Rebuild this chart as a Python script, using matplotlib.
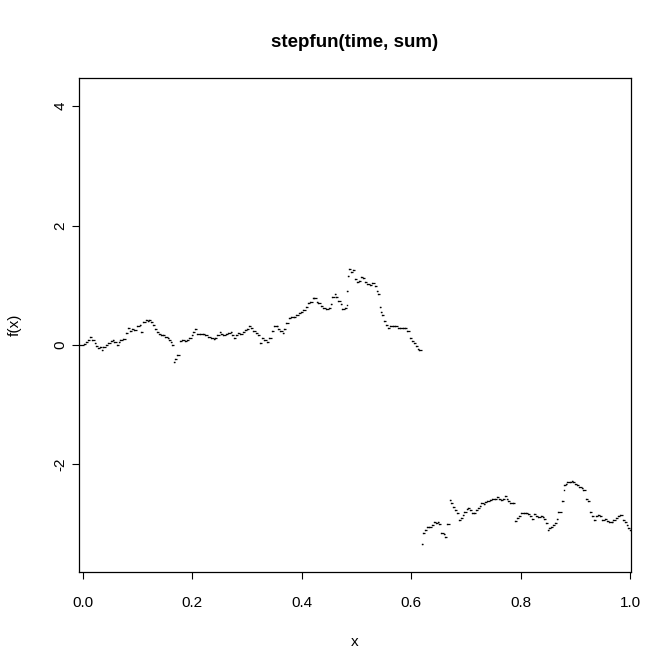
import numpy as np
import matplotlib
matplotlib.use('Agg')
import matplotlib.pyplot as plt

# knots of the step function (time) and the value right of each knot (sum)
time = [0.002, 0.006, 0.010, 0.014, 0.018, 0.022, 0.025, 0.028, 0.032, 0.035,
        0.038, 0.043, 0.046, 0.051, 0.055, 0.058, 0.062, 0.066, 0.069, 0.073,
        0.079, 0.082, 0.086, 0.090, 0.094, 0.099, 0.104, 0.106, 0.110, 0.115,
        0.119, 0.122, 0.125, 0.128, 0.132, 0.136, 0.140, 0.144, 0.147, 0.151,
        0.155, 0.158, 0.162, 0.164, 0.166, 0.169, 0.173, 0.177, 0.181, 0.186,
        0.191, 0.195, 0.199, 0.202, 0.206, 0.209, 0.214, 0.219, 0.224, 0.229,
        0.234, 0.239, 0.242, 0.246, 0.250, 0.253, 0.257, 0.261, 0.265, 0.270,
        0.273, 0.276, 0.280, 0.284, 0.288, 0.292, 0.296, 0.300, 0.303, 0.307,
        0.311, 0.316, 0.321, 0.323, 0.328, 0.332, 0.336, 0.340, 0.345, 0.349,
        0.354, 0.357, 0.361, 0.365, 0.368, 0.372, 0.377, 0.381, 0.386, 0.390,
        0.395, 0.399, 0.403, 0.407, 0.411, 0.415, 0.420, 0.423, 0.427, 0.430,
        0.435, 0.439, 0.444, 0.449, 0.453, 0.456, 0.460, 0.463, 0.467, 0.471,
        0.474, 0.479, 0.482, 0.483, 0.485, 0.486, 0.490, 0.494, 0.497, 0.500,
        0.505, 0.508, 0.512, 0.516, 0.520, 0.524, 0.529, 0.533, 0.537, 0.540,
        0.542, 0.545, 0.547, 0.551, 0.553, 0.557, 0.561, 0.566, 0.570, 0.575,
        0.579, 0.584, 0.589, 0.593, 0.597, 0.601, 0.605, 0.608, 0.612, 0.614,
        0.619, 0.622, 0.625, 0.628, 0.633, 0.637, 0.642, 0.645, 0.648, 0.651,
        0.655, 0.659, 0.662, 0.666, 0.670, 0.673, 0.676, 0.679, 0.683, 0.687,
        0.690, 0.694, 0.696, 0.701, 0.704, 0.707, 0.710, 0.714, 0.718, 0.721,
        0.725, 0.728, 0.732, 0.734, 0.739, 0.744, 0.748, 0.753, 0.756, 0.760,
        0.763, 0.767, 0.771, 0.774, 0.777, 0.780, 0.785, 0.789, 0.793, 0.796,
        0.800, 0.805, 0.809, 0.813, 0.817, 0.821, 0.824, 0.827, 0.832, 0.837,
        0.840, 0.843, 0.846, 0.849, 0.852, 0.855, 0.858, 0.862, 0.866, 0.868,
        0.876, 0.878, 0.879, 0.882, 0.885, 0.889, 0.893, 0.896, 0.899, 0.902,
        0.906, 0.911, 0.914, 0.919, 0.922, 0.927, 0.929, 0.933, 0.937, 0.941,
        0.945, 0.949, 0.953, 0.957, 0.961, 0.966, 0.969, 0.974, 0.978, 0.981,
        0.986, 0.990, 0.994, 0.996, 0.999]

sums = [0.01, 0.05, 0.08, 0.13, 0.08, 0.03, -0.01, -0.05, -0.03, -0.08,
        -0.03, 0.00, 0.03, 0.07, 0.08, 0.05, 0.00, 0.05, 0.09, 0.10,
        0.20, 0.28, 0.23, 0.27, 0.25, 0.31, 0.33, 0.22, 0.38, 0.42,
        0.40, 0.42, 0.38, 0.33, 0.27, 0.21, 0.18, 0.16, 0.17, 0.13,
        0.11, 0.08, 0.05, 0.00, -0.29, -0.23, -0.16, 0.07, 0.08, 0.06,
        0.09, 0.12, 0.17, 0.21, 0.26, 0.19, 0.18, 0.18, 0.17, 0.14,
        0.12, 0.10, 0.12, 0.17, 0.22, 0.18, 0.17, 0.18, 0.20, 0.21,
        0.16, 0.11, 0.17, 0.20, 0.19, 0.22, 0.25, 0.27, 0.31, 0.28,
        0.23, 0.20, 0.17, 0.03, 0.12, 0.08, 0.05, 0.12, 0.23, 0.31,
        0.32, 0.27, 0.23, 0.20, 0.27, 0.36, 0.45, 0.47, 0.47, 0.50,
        0.53, 0.56, 0.59, 0.64, 0.70, 0.72, 0.78, 0.79, 0.72, 0.70,
        0.66, 0.62, 0.61, 0.62, 0.68, 0.81, 0.85, 0.81, 0.74, 0.68,
        0.60, 0.62, 0.67, 0.90, 1.16, 1.28, 1.23, 1.26, 1.10, 1.06,
        1.07, 1.14, 1.12, 1.06, 1.02, 1.00, 1.03, 0.98, 0.90, 0.85,
        0.64, 0.56, 0.50, 0.40, 0.33, 0.29, 0.31, 0.32, 0.31, 0.29,
        0.28, 0.29, 0.28, 0.23, 0.11, 0.07, 0.03, -0.01, -0.06, -0.08,
        -3.33, -3.15, -3.10, -3.05, -3.04, -3.01, -2.96, -2.98, -2.96, -3.00,
        -3.14, -3.16, -3.21, -3.00, -2.59, -2.65, -2.72, -2.77, -2.82, -2.93,
        -2.90, -2.85, -2.79, -2.75, -2.73, -2.77, -2.82, -2.81, -2.77, -2.73,
        -2.69, -2.65, -2.66, -2.63, -2.62, -2.59, -2.58, -2.57, -2.55, -2.57,
        -2.59, -2.57, -2.53, -2.57, -2.61, -2.64, -2.65, -2.94, -2.90, -2.87,
        -2.82, -2.82, -2.81, -2.83, -2.86, -2.92, -2.83, -2.86, -2.88, -2.87,
        -2.88, -2.92, -2.98, -3.10, -3.07, -3.04, -3.01, -2.98, -2.92, -2.79,
        -2.62, -2.43, -2.34, -2.33, -2.30, -2.29, -2.27, -2.30, -2.33, -2.34,
        -2.37, -2.40, -2.42, -2.58, -2.62, -2.79, -2.87, -2.93, -2.87, -2.85,
        -2.87, -2.93, -2.92, -2.94, -2.97, -2.96, -2.93, -2.90, -2.87, -2.85,
        -2.93, -2.97, -3.01, -3.07, -3.10]

left_value = 0.0  # value of the function before the first knot

x_ticks = [0.0, 0.2, 0.4, 0.6, 0.8, 1.0]
x_tick_labels = ['0.0', '0.2', '0.4', '0.6', '0.8', '1.0']
y_ticks = [-2, 0, 2, 4]
y_tick_labels = ['-2', '0', '2', '4']

plt.rcParams['font.family'] = ['Liberation Sans', 'DejaVu Sans']

fig = plt.figure(figsize=(6.71, 6.70), dpi=100)
ax = fig.add_axes([0.1170, 0.1463, 0.8233, 0.7373])

xmin, xmax = -0.0075, 1.001
t = np.array(time)
s = np.array(sums)
ends = np.append(t[1:], xmax)

ax.hlines(s, t, ends, colors='black', linewidth=0.9)
ax.hlines([left_value], [xmin], [t[0]], colors='black', linewidth=0.9)
ax.plot(t, s, linestyle='none', marker='s', markersize=1.0,
        markeredgewidth=0, color='black')

ax.set_xlim(xmin, xmax)
ax.set_ylim(-3.80, 4.47)
ax.set_xticks(x_ticks)
ax.set_xticklabels(x_tick_labels)
ax.set_yticks(y_ticks)
ax.set_yticklabels(y_tick_labels, rotation=90, va='center')

ax.tick_params(direction='out', length=5, width=0.8, labelsize=11,
               colors='black')
ax.tick_params(axis='x', pad=12)
ax.tick_params(axis='y', pad=3)
for sp in ax.spines.values():
    sp.set_linewidth(0.9)
    sp.set_color('black')

ax.set_xlabel('x', fontsize=11, labelpad=18)
ax.set_ylabel('f(x)', fontsize=11, labelpad=23)
ax.set_title('stepfun(time, sum)', fontsize=13.5, fontweight='bold', pad=22)

fig.savefig('out.png', dpi=100)
